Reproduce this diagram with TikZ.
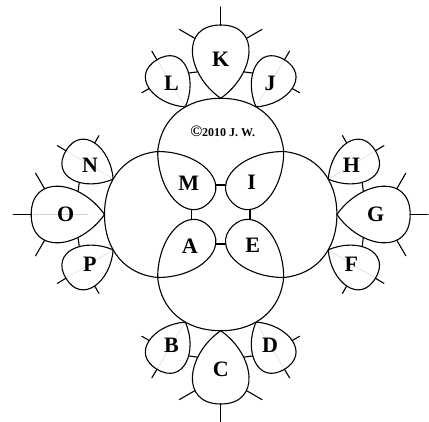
\documentclass[tikz,border=0pt]{standalone}
\usepackage{fontspec}
\setmainfont{Liberation Serif}
\usetikzlibrary{calc}

\begin{document}
\begin{tikzpicture}[x=1pt, y=1pt, line width=1.1pt, line cap=round,
    link/.style={line width=1.5pt},
    guide/.style={gray!35, line width=0.4pt},
    lab/.style={font=\fontsize{22}{22}\selectfont\bfseries, inner sep=0pt}]
  \useasboundingbox (-220.7,-206.5) rectangle (208.3,214.5);

  % faint guide inside O
  \draw[guide] (-187.5,0) coordinate (og1) -- (-132.7,0) coordinate (og2);

  \foreach \rot/\nK/\nL/\nJ/\nM in {0/K/L/J/M, -90/G/H/F/I, 180/C/D/B/E, 90/O/P/N/A}{
    \begin{scope}[rotate=\rot]
      \coordinate (\nK-tip) at (0,116.2);
      \coordinate (\nK-far) at (0,189.5);
      \coordinate (\nK-ctr) at (0,161.2);
      \draw (\nK-far) -- ($(\nK-far)!-18pt!(\nK-ctr)$);
      \node[lab] (\nK) at (0,155) {\nK};

      % inner ring at the corner
      \begin{scope}[shift={(-63,63)}, rotate=-45]
        \draw (0,0) .. controls (45:42) and (72.5,30) .. (72.5,0) coordinate[pos=0.74] (\nM-r)
          .. controls (72.5,-30) and (-45:42) .. (0,0);
      \end{scope}
      \node[lab] (\nM) at (-32,31) {\nM};
      \draw[link] (\nM-r) -- ++(9.8,0);

      \foreach \s/\nS in {1/\nL, -1/\nJ}{
        \begin{scope}[xscale=\s]
          % chain and half of the big ring
          \draw (-63,63) .. controls (-60,95) and (-36,116.2) .. (\nK-tip);
          \draw (\nK-tip) .. controls (-34.4,140.3) and (-41,189.5) .. (\nK-far)
            coordinate[pos=0.3] (\nS-kj) coordinate[pos=0.67] (\nS-kp);
          \draw (\nS-kp) -- ($(\nS-kp)!-18pt!(\nK-ctr)$);
          % small ring
          \begin{scope}[shift={(-35.4,107.6)}, rotate=121]
            \coordinate (\nS-tip) at (0,0);
            \coordinate (\nS-far) at (55,0);
            \coordinate (\nS-ctr) at (34,0);
            \draw[guide] (\nS-tip) -- (\nS-far);
            \draw (\nS-tip) .. controls (55:32) and (55,31) .. (\nS-far) coordinate[pos=0.5] (\nS-p)
              .. controls (55,-31) and (-55:32) .. (\nS-tip) coordinate[pos=0.6] (\nS-j);
            \draw (\nS-far) -- ($(\nS-far)!-10pt!(\nS-ctr)$);
            \draw (\nS-p) -- ($(\nS-p)!-8.5pt!(\nS-ctr)$);
            \node[lab] (\nS) at (27,0) {\nS};
          \end{scope}
          \draw (\nS-kj) -- (\nS-j);
        \end{scope}
      }
    \end{scope}
  }

  \node[font=\fontsize{12}{12}\selectfont\bfseries] (copy) at (2,83)
    {{\fontsize{16}{16}\selectfont\textcopyright}2010 J. W.};
\end{tikzpicture}
\end{document}
